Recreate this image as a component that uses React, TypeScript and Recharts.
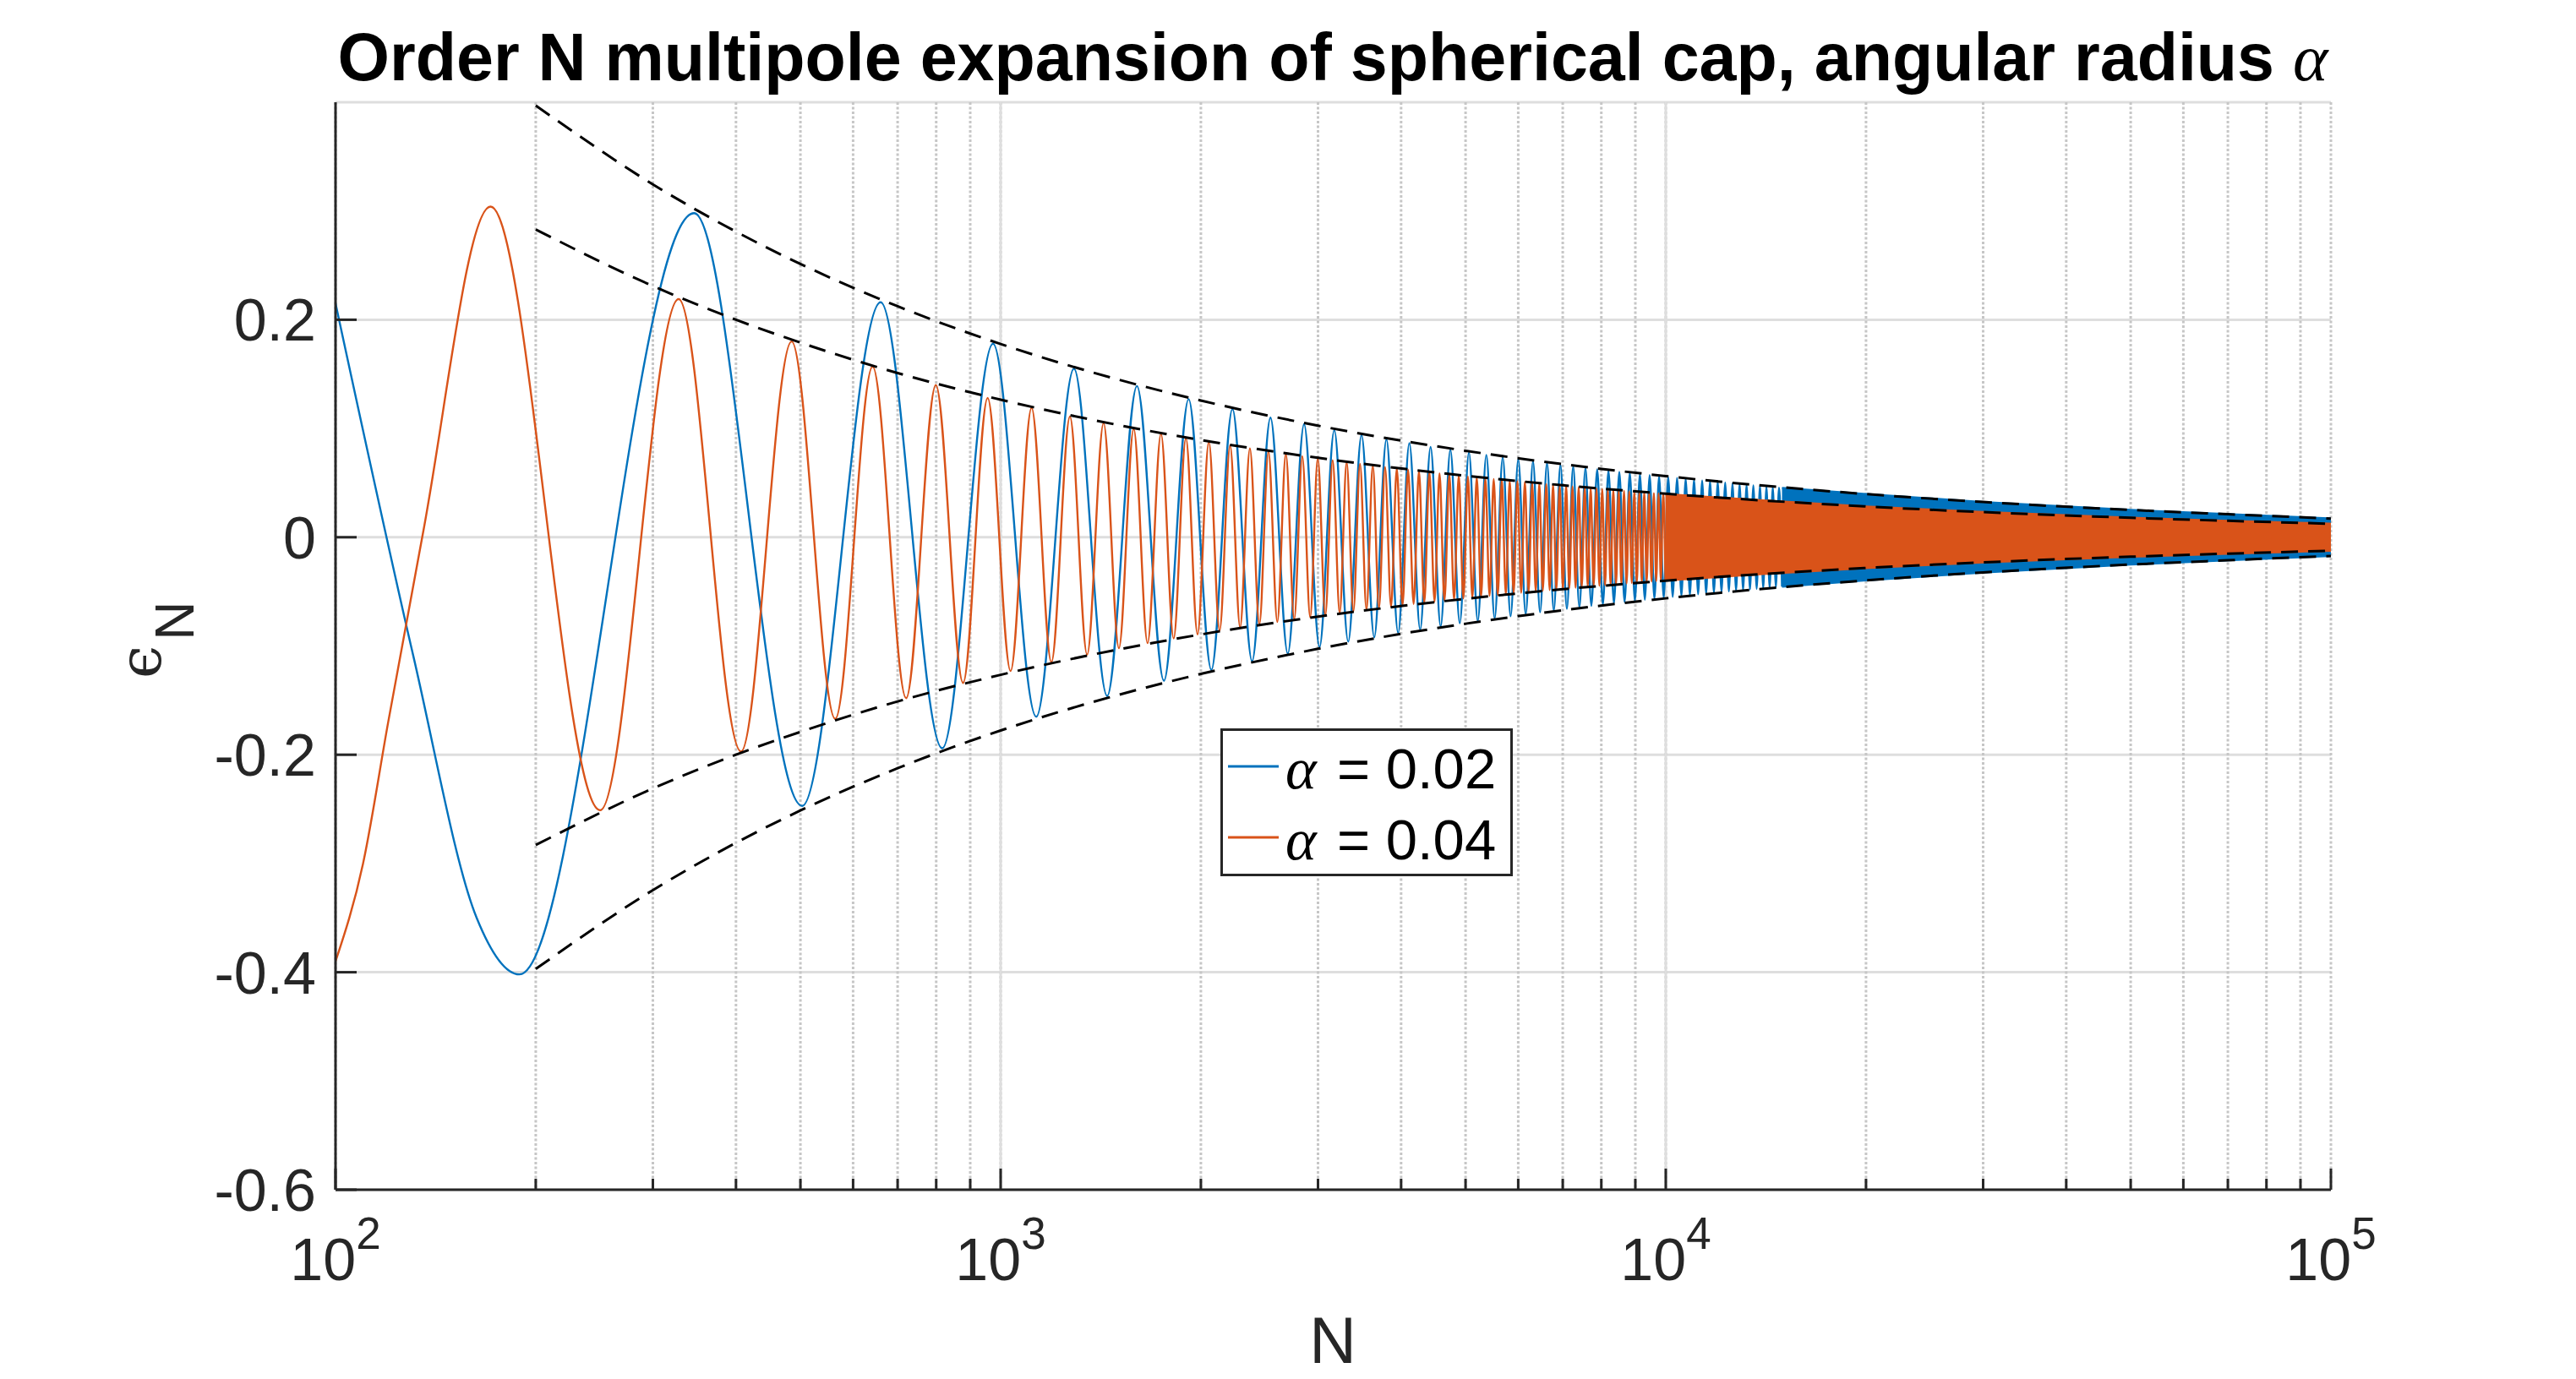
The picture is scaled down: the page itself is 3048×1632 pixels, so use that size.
import React from 'react';
import {
  ComposedChart,
  Line,
  Area,
  XAxis,
  YAxis,
  CartesianGrid,
  ReferenceLine,
  Legend,
} from 'recharts';

const W = 3048;
const H = 1632;
const SANS = '"Liberation Sans", Arial, Helvetica, sans-serif';
const SERIF = '"Liberation Serif", "DejaVu Serif", serif';
const INK = '#262626';
const BLUE = '#0072BD';
const ORANGE = '#D95319';

// axis ticks (x is logarithmic)
const MAJOR_N = [100, 1000, 10000, 100000];
const MINOR_N = [
  200, 300, 400, 500, 600, 700, 800, 900,
  2000, 3000, 4000, 5000, 6000, 7000, 8000, 9000,
  20000, 30000, 40000, 50000, 60000, 70000, 80000, 90000,
];
const Y_TICKS = [-0.6, -0.4, -0.2, 0, 0.2];
const LEGEND_LABELS = ['0.02', '0.04'];
const LEGEND_COLORS = [BLUE, ORANGE];

// alpha = 0.02 : turning points
const BLUE_N = [
  100, 131, 163, 189, 346, 503, 660, 817, 974, 1131, 1289, 1446, 1603, 1760, 1917, 2074,
  2231, 2388, 2545, 2702, 2859, 3016, 3174, 3331, 3488, 3645, 3802, 3959, 4116, 4273,
  4430, 4587, 4744, 4901, 5059, 5216, 5373, 5530, 5687, 5844, 6001, 6158, 6315, 6472,
  6629, 6786, 6944, 7101, 7258, 7415, 7572, 7729, 7886, 8043, 8200, 8357, 8514, 8671,
  8829, 8986, 9143, 9300, 9457, 9614, 9771, 9928,
  10085, 10242, 10399, 10556, 10713, 10870, 11027, 11185, 11342, 11499, 11656, 11813,
  11970, 12127, 12284, 12441, 12598, 12755, 12912, 13069, 13227, 13384, 13541, 13698,
  13855, 14012, 14169, 14326, 14483, 14640, 14797, 14954,
];
const BLUE_V = [
  0.215, -0.11, -0.35, -0.402, 0.298, -0.247, 0.216, -0.194, 0.178, -0.165, 0.155, -0.146,
  0.139, -0.132, 0.127, -0.122, 0.118, -0.114, 0.11, -0.107, 0.104, -0.101, 0.0985, -0.096,
  0.094, -0.092, 0.09, -0.088, 0.0865, -0.085, 0.083, -0.082, 0.0805, -0.079, 0.078, -0.077,
  0.0757, -0.0746, 0.0736, -0.0726, 0.0716, -0.0707, 0.0698, -0.069, 0.0682, -0.0674, 0.0666,
  -0.0659, 0.0651, -0.0645, 0.0638, -0.0631, 0.0625, -0.0619, 0.0613, -0.0607, 0.0601,
  -0.0596, 0.0591, -0.0585, 0.058, -0.0575, 0.0571, -0.0566, 0.0561, -0.0557,
  0.0553, -0.0548, 0.0544, -0.054, 0.0536, -0.0532, 0.0529, -0.0525, 0.0521, -0.0518,
  0.0514, -0.0511, 0.0507, -0.0504, 0.0501, -0.0498, 0.0494, -0.0491, 0.0488, -0.0485,
  0.0483, -0.048, 0.0477, -0.0474, 0.0472, -0.0469, 0.0466, -0.0464, 0.0461, -0.0459,
  0.0456, -0.0454,
];

// alpha = 0.04
const ORANGE_N = [
  100, 110, 120, 135, 171, 250, 328, 407, 485, 564, 642, 721, 799, 878, 956, 1035, 1113,
  1192, 1271, 1349, 1428, 1506, 1585, 1663, 1742, 1820, 1899, 1977, 2056, 2134, 2213, 2291,
  2370, 2449, 2527, 2606, 2684, 2763, 2841, 2920, 2998, 3077, 3156, 3234, 3313, 3391, 3470,
  3548, 3627, 3705, 3784, 3863, 3941, 4020, 4098, 4177, 4255, 4334, 4412, 4491, 4569, 4648,
  4727, 4805, 4884, 4962,
  5041, 5119, 5198, 5276, 5355, 5433, 5512, 5590, 5669, 5748, 5826, 5905, 5983, 6062, 6140,
  6219, 6297, 6376, 6454, 6533, 6612, 6690, 6769, 6847, 6926, 7004, 7083, 7161, 7240, 7318,
  7397, 7476, 7554, 7633, 7711, 7790, 7868, 7947, 8025, 8104, 8182, 8261, 8339, 8418, 8497,
  8575, 8654, 8732, 8811, 8889, 8968, 9046, 9125, 9203, 9282, 9361, 9439, 9518, 9596, 9675,
  9753, 9832, 9910, 9989,
];
const ORANGE_V = [
  -0.39, -0.3, -0.17, 0.0, 0.304, -0.251, 0.219, -0.197, 0.18, -0.167, 0.157, -0.148, 0.14,
  -0.134, 0.128, -0.123, 0.119, -0.115, 0.111, -0.108, 0.105, -0.102, 0.0997, -0.0974, 0.0951,
  -0.0931, 0.0911, -0.0893, 0.0876, -0.0859, 0.0844, -0.0829, 0.0816, -0.0802, 0.079, -0.0778,
  0.0766, -0.0755, 0.0745, -0.0735, 0.0725, -0.0716, 0.0707, -0.0698, 0.069, -0.0682, 0.0674,
  -0.0666, 0.0659, -0.0652, 0.0645, -0.0639, 0.0632, -0.0626, 0.062, -0.0614, 0.0609,
  -0.0603, 0.0598, -0.0592, 0.0587, -0.0582, 0.0577, -0.0573, 0.0568, -0.0564,
  0.0559, -0.0555, 0.0551, -0.0547, 0.0543, -0.0539, 0.0535, -0.0531, 0.0527, -0.0524,
  0.052, -0.0517, 0.0513, -0.051, 0.0507, -0.0503, 0.05, -0.0497, 0.0494, -0.0491,
  0.0488, -0.0485, 0.0483, -0.048, 0.0477, -0.0474, 0.0472, -0.0469, 0.0467, -0.0464,
  0.0462, -0.0459, 0.0457, -0.0454, 0.0452, -0.045, 0.0448, -0.0445, 0.0443, -0.0441,
  0.0439, -0.0437, 0.0435, -0.0433, 0.0431, -0.0429, 0.0427, -0.0425, 0.0423, -0.0421,
  0.0419, -0.0417, 0.0416, -0.0414, 0.0412, -0.041, 0.0409, -0.0407, 0.0405, -0.0404,
  0.0402, -0.04, 0.0399, -0.0397,
];

// where the oscillations are too dense to resolve, the picture shows a solid band
const BLUE_BAND_N = [14954, 20000, 30000, 50000, 70000, 100000];
const BLUE_BAND_HI = [0.0454, 0.0397, 0.0324, 0.0251, 0.0212, 0.0172];
const BLUE_BAND_LO = [-0.0454, -0.0397, -0.0324, -0.0251, -0.0212, -0.0172];
const ORANGE_BAND_N = [9989, 14000, 20000, 30000, 50000, 70000, 100000];
const ORANGE_BAND_HI = [0.0397, 0.0338, 0.0283, 0.0231, 0.0179, 0.0151, 0.0124];
const ORANGE_BAND_LO = [-0.0397, -0.0338, -0.0283, -0.0231, -0.0179, -0.0151, -0.0124];

// dashed envelopes
const ENV_N = [200, 300, 400, 500, 700, 1000, 1500, 2000, 3000, 5000, 7000, 10000, 20000, 30000, 50000, 70000, 100000];
const BLUE_ENV_HI = [0.397, 0.3245, 0.281, 0.2513, 0.2124, 0.1777, 0.1451, 0.1257, 0.1026, 0.0795, 0.0672, 0.0562, 0.0397, 0.0324, 0.0251, 0.0212, 0.0172];
const ORANGE_ENV_HI = [0.283, 0.231, 0.2, 0.179, 0.151, 0.1265, 0.1033, 0.0894, 0.073, 0.0566, 0.0478, 0.04, 0.0283, 0.0231, 0.0179, 0.0151, 0.0124];
const ORANGE_ENV_LO = [-0.283, -0.231, -0.2, -0.179, -0.151, -0.1265, -0.1033, -0.0894, -0.073, -0.0566, -0.0478, -0.04, -0.0283, -0.0231, -0.0179, -0.0151, -0.0124];
const BLUE_ENV_LO = [-0.397, -0.3245, -0.281, -0.2513, -0.2124, -0.1777, -0.1451, -0.1257, -0.1026, -0.0795, -0.0672, -0.0562, -0.0397, -0.0324, -0.0251, -0.0212, -0.0172];

const ALL_X_TICKS = [...MAJOR_N, ...MINOR_N].sort((a, b) => a - b);

function buildRows() {
  const rows = new Map<number, any>();
  const put = (n: number, key: string, v: any) => {
    if (!rows.has(n)) rows.set(n, { n });
    rows.get(n)[key] = v;
  };
  BLUE_N.forEach((n, i) => put(n, 'blue', BLUE_V[i]));
  ORANGE_N.forEach((n, i) => put(n, 'orange', ORANGE_V[i]));
  BLUE_BAND_N.forEach((n, i) => put(n, 'blueBand', [BLUE_BAND_LO[i], BLUE_BAND_HI[i]]));
  ORANGE_BAND_N.forEach((n, i) => put(n, 'orangeBand', [ORANGE_BAND_LO[i], ORANGE_BAND_HI[i]]));
  ENV_N.forEach((n, i) => {
    put(n, 'bUp', BLUE_ENV_HI[i]);
    put(n, 'oUp', ORANGE_ENV_HI[i]);
    put(n, 'oLo', ORANGE_ENV_LO[i]);
    put(n, 'bLo', BLUE_ENV_LO[i]);
  });
  return [...rows.values()].sort((a, b) => a.n - b.n);
}

const rows = buildRows();

const isMajor = (v: number) => MAJOR_N.includes(v);

function BottomTick(props: any) {
  const { x, y, payload } = props;
  const v = payload.value;
  const major = isMajor(v);
  return (
    <g>
      <line x1={x} x2={x} y1={y} y2={y - (major ? 25 : 13)} stroke={INK} strokeWidth={3} />
      {major && (
        <text x={x} y={y + 107} textAnchor="middle" fontFamily={SANS} fontSize={70} fill={INK}>
          <tspan>10</tspan>
          <tspan dy={-37} fontSize={53}>{Math.round(Math.log10(v))}</tspan>
        </text>
      )}
    </g>
  );
}

function TopTick(props: any) {
  const { x, y, payload } = props;
  const major = isMajor(payload.value);
  return <line x1={x} x2={x} y1={y} y2={y + (major ? 25 : 13)} stroke={INK} strokeWidth={3} />;
}

function LeftTick(props: any) {
  const { x, y, payload } = props;
  return (
    <g>
      <line x1={x} x2={x + 25} y1={y} y2={y} stroke={INK} strokeWidth={3} />
      <text x={x - 23} y={y + 25} textAnchor="end" fontFamily={SANS} fontSize={70} fill={INK}>
        {String(payload.value)}
      </text>
    </g>
  );
}

function RightTick(props: any) {
  const { x, y } = props;
  return <line x1={x} x2={x - 25} y1={y} y2={y} stroke={INK} strokeWidth={3} />;
}

function LegendBox() {
  return (
    <svg width={346} height={175} style={{ display: 'block' }}>
      <rect x={1.5} y={1.5} width={343} height={172} fill="#fff" stroke={INK} strokeWidth={3} />
      {LEGEND_LABELS.map((lab, i) => {
        const cy = 45 + i * 84;
        return (
          <g key={lab}>
            <line x1={9} x2={69} y1={cy} y2={cy} stroke={LEGEND_COLORS[i]} strokeWidth={3} />
            <text x={77} y={cy + 26} fontFamily={SERIF} fontStyle="italic" fontSize={70} fill="#000">
              α
            </text>
            <text x={138} y={cy + 26} fontFamily={SANS} fontSize={67} fill="#000">
              {'= ' + lab}
            </text>
          </g>
        );
      })}
    </svg>
  );
}

const axisLine = { stroke: INK, strokeWidth: 3 };
const LINE_W = 2.4;

export default function App() {
  return (
    <div style={{ position: 'absolute', left: 0, top: 0, width: W, height: H, background: '#fff' }}>
      <ComposedChart width={W} height={H} data={rows} margin={{ top: 121, right: 290, bottom: 0, left: 0 }}>
        <CartesianGrid xAxisId="bottom" yAxisId="left" vertical={false} stroke="#dedede" strokeWidth={3} />
        <CartesianGrid
          xAxisId="bottom"
          yAxisId="left"
          horizontal={false}
          stroke="#c6c6c6"
          strokeWidth={3}
          strokeDasharray="3 2.5"
        />
        {MAJOR_N.slice(1, -1).map((v) => (
          <ReferenceLine key={v} x={v} xAxisId="bottom" yAxisId="left" stroke="#dedede" strokeWidth={3} zIndex={-50} />
        ))}

        <XAxis
          xAxisId="bottom"
          dataKey="n"
          type="number"
          scale="log"
          domain={[100, 100000]}
          allowDataOverflow
          ticks={ALL_X_TICKS}
          interval={0}
          height={224}
          tickLine={false}
          tickSize={0}
          tickMargin={0}
          axisLine={axisLine}
          tick={(p: any) => <BottomTick {...p} />}
        />
        <XAxis
          xAxisId="top"
          orientation="top"
          dataKey="n"
          type="number"
          scale="log"
          domain={[100, 100000]}
          allowDataOverflow
          ticks={ALL_X_TICKS}
          interval={0}
          height={0}
          tickLine={false}
          tickSize={0}
          tickMargin={0}
          axisLine={axisLine}
          tick={(p: any) => <TopTick {...p} />}
        />
        <YAxis
          yAxisId="left"
          type="number"
          domain={[-0.6, 0.4]}
          allowDataOverflow
          ticks={Y_TICKS}
          interval={0}
          width={397}
          tickLine={false}
          tickSize={0}
          tickMargin={0}
          axisLine={axisLine}
          tick={(p: any) => <LeftTick {...p} />}
        />
        <YAxis
          yAxisId="right"
          orientation="right"
          type="number"
          domain={[-0.6, 0.4]}
          allowDataOverflow
          ticks={Y_TICKS}
          interval={0}
          width={0}
          tickLine={false}
          tickSize={0}
          tickMargin={0}
          axisLine={axisLine}
          tick={(p: any) => <RightTick {...p} />}
        />

        <Line
          xAxisId="bottom"
          yAxisId="left"
          dataKey="blue"
          type="monotone"
          stroke={BLUE}
          strokeWidth={LINE_W}
          dot={false}
          activeDot={false}
          connectNulls
          isAnimationActive={false}
          zIndex={401}
        />
        <Area
          xAxisId="bottom"
          yAxisId="left"
          dataKey="blueBand"
          type="monotone"
          stroke={BLUE}
          strokeWidth={LINE_W}
          fill={BLUE}
          fillOpacity={1}
          dot={false}
          activeDot={false}
          connectNulls
          isAnimationActive={false}
          zIndex={402}
        />
        <Line
          xAxisId="bottom"
          yAxisId="left"
          dataKey="orange"
          type="monotone"
          stroke={ORANGE}
          strokeWidth={LINE_W}
          dot={false}
          activeDot={false}
          connectNulls
          isAnimationActive={false}
          zIndex={403}
        />
        <Area
          xAxisId="bottom"
          yAxisId="left"
          dataKey="orangeBand"
          type="monotone"
          stroke={ORANGE}
          strokeWidth={LINE_W}
          fill={ORANGE}
          fillOpacity={1}
          dot={false}
          activeDot={false}
          connectNulls
          isAnimationActive={false}
          zIndex={404}
        />
        {['bUp', 'oUp', 'oLo', 'bLo'].map((k) => (
          <Line
            key={k}
            xAxisId="bottom"
            yAxisId="left"
            dataKey={k}
            type="monotone"
            stroke="#000"
            strokeWidth={3}
            strokeDasharray="20 12"
            dot={false}
            activeDot={false}
            connectNulls
            legendType="none"
            isAnimationActive={false}
            zIndex={405}
          />
        ))}

        <Legend
          layout="horizontal"
          verticalAlign="middle"
          align="center"
          content={() => <LegendBox />}
          wrapperStyle={{ left: 1444, top: 862, width: 346, height: 175 }}
        />
      </ComposedChart>

      <svg
        width={W}
        height={H}
        style={{ position: 'absolute', left: 0, top: 0, pointerEvents: 'none' }}
      >
        <text x={1577} y={95} textAnchor="middle" fontFamily={SANS} fontWeight="bold" fontSize={79} fill="#000">
          {'Order N multipole expansion of spherical cap, angular radius '}
          <tspan fontFamily={SERIF} fontStyle="italic" fontWeight="normal" fontSize={79}>
            α
          </tspan>
        </text>
        <text x={1577} y={1613} textAnchor="middle" fontFamily={SANS} fontSize={77} fill={INK}>
          N
        </text>
        <text transform="translate(190,803) rotate(-90)" fill={INK}>
          <tspan fontFamily='"DejaVu Serif", serif' fontSize={70}>
            ϵ
          </tspan>
          <tspan dx={6} dy={39} fontFamily={SANS} fontSize={64}>
            N
          </tspan>
        </text>
      </svg>
    </div>
  );
}
